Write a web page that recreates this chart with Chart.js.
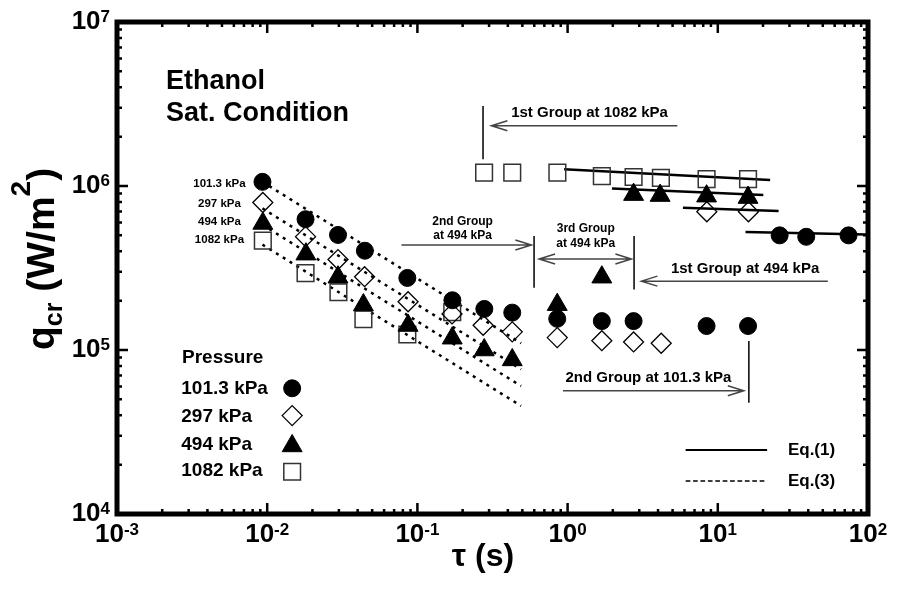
<!DOCTYPE html>
<html>
<head>
<meta charset="utf-8">
<script src="https://cdn.jsdelivr.net/npm/chart.js@4"></script>
<style>
  html, body { margin: 0; padding: 0; background: #fff; }
  #wrap { width: 901px; height: 592px; }
</style>
</head>
<body>
<div id="wrap"><canvas id="c" width="901" height="592"></canvas></div>
<script>
'use strict';

// axis ticks
var xTicks = [1e-3, 1e-2, 1e-1, 1e0, 1e1, 1e2];
var yTicks = [1e4, 1e5, 1e6, 1e7];
var pressures = ['101.3 kPa', '297 kPa', '494 kPa', '1082 kPa'];

// measured points, tau (s) / q_cr (W/m2)
var tau101 = [0.0093, 0.018, 0.0296, 0.0447, 0.0857, 0.171, 0.279, 0.428, 0.853, 1.69, 2.75, 8.42, 15.9, 25.8, 38.8, 74.2];
var q101   = [1.06e6, 6.27e5, 5.03e5, 4.03e5, 2.75e5, 2.01e5, 1.78e5, 1.69e5, 1.55e5, 1.50e5, 1.50e5, 1.40e5, 1.40e5, 5.0e5, 4.9e5, 5.0e5];
var tau297 = [0.00935, 0.018, 0.0296, 0.0445, 0.0867, 0.17, 0.274, 0.428, 0.853, 1.69, 2.75, 4.2, 8.45, 16.0];
var q297   = [7.93e5, 4.91e5, 3.56e5, 2.80e5, 1.97e5, 1.66e5, 1.415e5, 1.29e5, 1.19e5, 1.14e5, 1.12e5, 1.10e5, 6.97e5, 6.97e5];
var tau494 = [0.00935, 0.0181, 0.0296, 0.0437, 0.0867, 0.1706, 0.2786, 0.428, 0.853, 1.69, 2.75, 4.13, 8.42, 15.9];
var q494   = [5.91e5, 3.84e5, 2.78e5, 1.88e5, 1.41e5, 1.18e5, 1.0e5, 8.7e4, 1.89e5, 2.78e5, 8.86e5, 8.74e5, 8.67e5, 8.5e5];
var tau1082 = [0.00935, 0.018, 0.0298, 0.0437, 0.0857, 0.1706, 0.278, 0.428, 0.855, 1.69, 2.75, 4.18, 8.42, 15.9];
var q1082   = [4.65e5, 2.94e5, 2.25e5, 1.54e5, 1.243e5, 1.70e5, 1.205e6, 1.205e6, 1.205e6, 1.15e6, 1.135e6, 1.12e6, 1.10e6, 1.10e6];

// Eq.(1) lines (end points)
var eq1Tau101 = [15.3, 98];   var eq1Q101 = [5.24e5, 5.06e5];
var eq1Tau297 = [5.86, 25.4]; var eq1Q297 = [7.38e5, 7.04e5];
var eq1Tau494 = [1.974, 20.1]; var eq1Q494 = [9.66e5, 8.81e5];
var eq1Tau1082 = [0.948, 22.3]; var eq1Q1082 = [1.266e6, 1.088e6];

// Eq.(3) lines (end points)
var eq3Tau = [0.0093, 0.49];
var eq3Q101 = [1.06e6, 1.10e5];
var eq3Q297 = [7.3e5, 7.63e4];
var eq3Q494 = [5.8e5, 6.03e4];
var eq3Q1082 = [4.39e5, 4.56e4];

var FONT = '"Liberation Sans", Arial, Helvetica, sans-serif';
function bold(size) { return 'bold ' + size + 'px ' + FONT; }

function zip(t, q) {
  return t.map(function (v, i) { return { x: v, y: q[i] }; });
}

// marker looks, shared by the datasets and the legend
var marks = [
  { style: 'circle',  r: 8.5,  fill: '#000', line: '#000', w: 1 },
  { style: 'rectRot', r: 10,   fill: 'rgba(0,0,0,0)', line: '#000', w: 1.3 },
  { style: 'triangle', r: 11.5, fill: '#000', line: '#000', w: 1 },
  { style: 'rect',    r: 11.8, fill: 'rgba(0,0,0,0)', line: '#333', w: 1.5 }
];

function pointSet(label, t, q, m) {
  return {
    label: label, data: zip(t, q), showLine: false,
    pointStyle: m.style, pointRadius: m.r, pointBackgroundColor: m.fill,
    pointBorderColor: m.line, pointBorderWidth: m.w
  };
}
function eqSet(label, t, q, dotted) {
  return {
    label: label, data: zip(t, q), showLine: true, pointRadius: 0,
    borderColor: '#000', borderWidth: 2.5, borderDash: dotted ? [3, 5] : [],
    fill: false, tension: 0
  };
}

// text notes on the plot, in data coordinates
var notes = [
  { text: 'Ethanol', tau: 0.00212, q: 4.32e6, size: 27, align: 'left' },
  { text: 'Sat. Condition', tau: 0.00212, q: 2.78e6, size: 27, align: 'left' },
  { text: '1st Group at 1082 kPa', tau: 1.40, q: 2.78e6, size: 15, align: 'center' },
  { text: '2nd Group', tau: 0.2, q: 6.06e5, size: 12, align: 'center' },
  { text: 'at 494 kPa', tau: 0.2, q: 4.96e5, size: 12, align: 'center' },
  { text: '3rd Group', tau: 1.32, q: 5.47e5, size: 12, align: 'center' },
  { text: 'at 494 kPa', tau: 1.32, q: 4.43e5, size: 12, align: 'center' },
  { text: '1st Group at 494 kPa', tau: 15.2, q: 3.12e5, size: 15, align: 'center' },
  { text: '2nd Group at 101.3 kPa', tau: 3.45, q: 6.72e4, size: 15, align: 'center' },
  { text: '101.3 kPa', tau: 0.00481, q: 1.024e6, size: 11.5, align: 'center' },
  { text: '297 kPa', tau: 0.00481, q: 7.84e5, size: 11.5, align: 'center' },
  { text: '494 kPa', tau: 0.00481, q: 6.06e5, size: 11.5, align: 'center' },
  { text: '1082 kPa', tau: 0.00481, q: 4.69e5, size: 11.5, align: 'center' }
];
var arrows = [
  { q: 2.33e6, from: 5.38, to: 0.311, both: false },
  { q: 4.37e5, from: 0.0783, to: 0.574, both: false },
  { q: 3.59e5, from: 0.646, to: 2.66, both: true },
  { q: 2.63e5, from: 54.0, to: 3.10, both: false },
  { q: 5.65e4, from: 0.932, to: 14.9, both: false }
];
var vlines = [
  { tau: 0.2735, q1: 3.07e6, q2: 1.455e6 },
  { tau: 0.598, q1: 4.96e5, q2: 2.40e5 },
  { tau: 2.77, q1: 4.96e5, q2: 2.34e5 },
  { tau: 16.1, q1: 1.135e5, q2: 4.77e4 }
];

function drawMark(ctx, m, x, y) {
  ctx.save();
  ctx.beginPath();
  var r = m.r;
  if (m.style === 'circle') {
    ctx.arc(x, y, r, 0, Math.PI * 2);
  } else if (m.style === 'rectRot') {
    ctx.moveTo(x - r, y); ctx.lineTo(x, y - r); ctx.lineTo(x + r, y); ctx.lineTo(x, y + r);
    ctx.closePath();
  } else if (m.style === 'triangle') {
    ctx.moveTo(x, y - r);
    ctx.lineTo(x + r * Math.sin(2 * Math.PI / 3), y - r * Math.cos(2 * Math.PI / 3));
    ctx.lineTo(x + r * Math.sin(4 * Math.PI / 3), y - r * Math.cos(4 * Math.PI / 3));
    ctx.closePath();
  } else {
    var s = r * Math.SQRT1_2;
    ctx.rect(x - s, y - s, 2 * s, 2 * s);
  }
  ctx.fillStyle = m.fill; ctx.fill();
  ctx.lineWidth = m.w; ctx.strokeStyle = m.line; ctx.stroke();
  ctx.restore();
}

function head(ctx, tip, y, dir) {
  ctx.moveTo(tip - dir * 16, y - 5); ctx.lineTo(tip, y); ctx.lineTo(tip - dir * 16, y + 5);
}

var decor = {
  id: 'decor',
  afterDraw: function (chart) {
    var ctx = chart.ctx, a = chart.chartArea;
    var xs = chart.scales.x, ys = chart.scales.y;
    var X = function (v) { return xs.getPixelForValue(v); };
    var Y = function (v) { return ys.getPixelForValue(v); };
    ctx.save();
    ctx.strokeStyle = '#000'; ctx.fillStyle = '#000';

    // ticks, pointing inward on all four sides
    ctx.lineWidth = 2.5;
    ctx.beginPath();
    var e, m, p, len;
    for (e = -3; e < 2; e++) for (m = 1; m < 10; m++) {
      p = X(m * Math.pow(10, e)); len = m === 1 ? 11 : 5;
      ctx.moveTo(p, a.bottom); ctx.lineTo(p, a.bottom - len);
      ctx.moveTo(p, a.top); ctx.lineTo(p, a.top + len);
    }
    for (e = 4; e < 7; e++) for (m = 1; m < 10; m++) {
      p = Y(m * Math.pow(10, e)); len = m === 1 ? 11 : 5;
      ctx.moveTo(a.left, p); ctx.lineTo(a.left + len, p);
      ctx.moveTo(a.right, p); ctx.lineTo(a.right - len, p);
    }
    ctx.stroke();
    ctx.lineWidth = 5;
    ctx.strokeRect(a.left, a.top, a.right - a.left, a.bottom - a.top);

    // tick labels 10^n
    ctx.textBaseline = 'middle'; ctx.textAlign = 'left';
    xTicks.forEach(function (v) {
      var n = String(Math.round(Math.log10(v)));
      ctx.font = bold(26); var w1 = ctx.measureText('10').width;
      ctx.font = bold(17); var w2 = ctx.measureText(n).width;
      var x0 = X(v) - (w1 + w2) / 2;
      ctx.font = bold(26); ctx.fillText('10', x0, 535);
      ctx.font = bold(17); ctx.fillText(n, x0 + w1, 530.5);
    });
    yTicks.forEach(function (v) {
      var n = String(Math.round(Math.log10(v)));
      ctx.font = bold(17); var w2 = ctx.measureText(n).width;
      ctx.font = bold(26); var w1 = ctx.measureText('10').width;
      var x0 = 110 - w1 - w2, y = Y(v);
      ctx.fillText('10', x0, y);
      ctx.font = bold(17); ctx.fillText(n, x0 + w1, y - 4.5);
    });

    // axis titles
    ctx.textBaseline = 'alphabetic'; ctx.textAlign = 'center';
    ctx.font = bold(32);
    ctx.fillText('\u03c4 (s)', 483, 566);

    ctx.save();
    ctx.translate(54, 350);
    ctx.rotate(-Math.PI / 2);
    ctx.textAlign = 'left';
    var cx = 0;
    ctx.font = bold(39); ctx.fillText('q', cx, 0); cx += ctx.measureText('q').width;
    ctx.font = bold(25); ctx.fillText('cr', cx, 8); cx += ctx.measureText('cr').width;
    ctx.font = bold(39); ctx.fillText(' (W/m', cx, 0); cx += ctx.measureText(' (W/m').width;
    ctx.font = bold(28); ctx.fillText('2', cx, -24); cx += ctx.measureText('2').width;
    ctx.font = bold(39); ctx.fillText(')', cx, 0);
    ctx.restore();

    // notes
    ctx.textBaseline = 'middle';
    notes.forEach(function (n) {
      ctx.font = bold(n.size); ctx.textAlign = n.align;
      ctx.fillText(n.text, X(n.tau), Y(n.q));
    });

    // arrows
    ctx.strokeStyle = '#444'; ctx.lineWidth = 1.5;
    ctx.beginPath();
    arrows.forEach(function (ar) {
      var y = Y(ar.q), x1 = X(ar.from), x2 = X(ar.to), dir = x2 > x1 ? 1 : -1;
      ctx.moveTo(x1, y); ctx.lineTo(x2, y);
      head(ctx, x2, y, dir);
      if (ar.both) head(ctx, x1, y, -dir);
    });
    ctx.stroke();
    ctx.strokeStyle = '#000';
    ctx.beginPath();
    vlines.forEach(function (l) {
      var x = X(l.tau);
      ctx.moveTo(x, Y(l.q1)); ctx.lineTo(x, Y(l.q2));
    });
    ctx.stroke();

    // legend: pressure
    ctx.textAlign = 'left';
    ctx.font = bold(19);
    ctx.fillText('Pressure', X(0.00271), Y(8.98e4));
    var rowQ = [5.78e4, 3.92e4, 2.66e4, 1.83e4];
    var markQ = [5.84e4, 3.98e4, 2.60e4, 1.81e4];
    pressures.forEach(function (p, i) {
      ctx.fillStyle = '#000';
      ctx.fillText(p, X(0.00268), Y(rowQ[i]));
      drawMark(ctx, marks[i], X(0.01466), Y(markQ[i]));
    });

    // legend: equations
    ctx.font = bold(17); ctx.fillStyle = '#000';
    ctx.lineWidth = 2;
    ctx.beginPath(); ctx.moveTo(X(6.11), Y(2.46e4)); ctx.lineTo(X(21.3), Y(2.46e4)); ctx.stroke();
    ctx.lineWidth = 1.5; ctx.setLineDash([4.7, 2.7]);
    ctx.beginPath(); ctx.moveTo(X(6.11), Y(1.59e4)); ctx.lineTo(X(21.3), Y(1.59e4)); ctx.stroke();
    ctx.setLineDash([]);
    ctx.fillText('Eq.(1)', X(29.3), Y(2.46e4));
    ctx.fillText('Eq.(3)', X(29.3), Y(1.59e4));

    ctx.restore();
  }
};

var ctx = document.getElementById('c').getContext('2d');
window.myChart = new Chart(ctx, {
  type: 'scatter',
  data: {
    datasets: [
      pointSet(pressures[0], tau101, q101, marks[0]),
      pointSet(pressures[1], tau297, q297, marks[1]),
      pointSet(pressures[2], tau494, q494, marks[2]),
      pointSet(pressures[3], tau1082, q1082, marks[3]),
      eqSet('Eq.(1) 101.3', eq1Tau101, eq1Q101, false),
      eqSet('Eq.(1) 297', eq1Tau297, eq1Q297, false),
      eqSet('Eq.(1) 494', eq1Tau494, eq1Q494, false),
      eqSet('Eq.(1) 1082', eq1Tau1082, eq1Q1082, false),
      eqSet('Eq.(3) 101.3', eq3Tau, eq3Q101, true),
      eqSet('Eq.(3) 297', eq3Tau, eq3Q297, true),
      eqSet('Eq.(3) 494', eq3Tau, eq3Q494, true),
      eqSet('Eq.(3) 1082', eq3Tau, eq3Q1082, true)
    ]
  },
  options: {
    responsive: false,
    animation: false,
    events: [],
    layout: { padding: { top: 22, right: 33, left: 0, bottom: 0 } },
    plugins: { legend: { display: false }, tooltip: { enabled: false } },
    scales: {
      x: {
        type: 'logarithmic', min: 1e-3, max: 1e2,
        ticks: { display: false }, grid: { display: false }, border: { display: false },
        afterFit: function (s) { s.height = 78; }
      },
      y: {
        type: 'logarithmic', min: 1e4, max: 1e7,
        ticks: { display: false }, grid: { display: false }, border: { display: false },
        afterFit: function (s) { s.width = 117; }
      }
    }
  },
  plugins: [decor]
});
</script>
</body>
</html>
